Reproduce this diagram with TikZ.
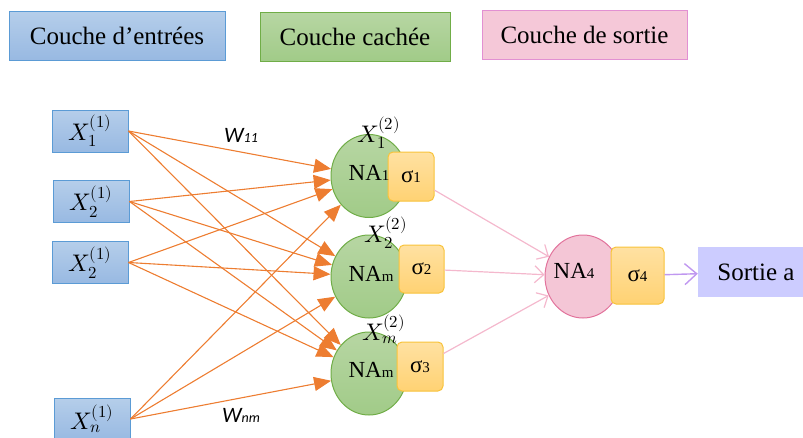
\documentclass[tikz,border=0pt]{standalone}
\usepackage{fontspec}
\usepackage{unicode-math}
\setmainfont{Liberation Serif}
\setmathfont{Latin Modern Math}
\newfontfamily\wfont{Carlito}
\usetikzlibrary{arrows.meta,shapes.geometric}

\definecolor{bluetop}{HTML}{B5CEEA}
\definecolor{bluebot}{HTML}{98B9E2}
\definecolor{blueline}{HTML}{5B9BD5}
\definecolor{greentop}{HTML}{B7D6A3}
\definecolor{greenbot}{HTML}{A1CB88}
\definecolor{greenline}{HTML}{70AD47}
\definecolor{pinkfill}{HTML}{F5C8D8}
\definecolor{pinkline}{HTML}{E290D2}
\definecolor{nafill}{HTML}{F4C6D6}
\definecolor{naline}{HTML}{E2739C}
\definecolor{sigtop}{HTML}{FFE1A2}
\definecolor{sigbot}{HTML}{FFD273}
\definecolor{sigline}{HTML}{F8C33A}
\definecolor{wire}{HTML}{ED7D31}
\definecolor{pinkwire}{HTML}{F4B8CD}
\definecolor{outwire}{HTML}{C098F0}
\definecolor{outfill}{HTML}{CCCCFF}

\newcommand{\bigtxt}[1]{{\fontsize{23}{26}\selectfont #1}}
\newcommand{\smltxt}[1]{{\fontsize{15}{16}\selectfont #1}}

\tikzset{
  legendbox/.style={draw, line width=1pt, minimum height=49pt, inner sep=0pt,
    font=\fontsize{25}{30}\selectfont},
  inbox/.style={draw=blueline, line width=1pt, top color=bluetop, bottom color=bluebot,
    minimum width=76pt, minimum height=42pt, inner sep=0pt,
    font=\fontsize{24}{28}\selectfont},
  neuron/.style={ellipse, draw=greenline, line width=1pt, top color=greentop,
    bottom color=greenbot, minimum width=76pt, minimum height=83pt, inner sep=0pt},
  sigbox/.style={draw=sigline, line width=1pt, rounded corners=5pt, top color=sigtop,
    bottom color=sigbot, minimum width=46pt, minimum height=49pt, inner sep=0pt},
  natext/.style={inner sep=0pt, anchor=base},
  xlab/.style={inner sep=0pt, anchor=base west, font=\fontsize{24}{28}\selectfont},
  wlab/.style={inner sep=0pt, anchor=base, font=\wfont\itshape\fontsize{22}{24}\selectfont},
  wlink/.style={draw=wire, line width=1.1pt, -{Triangle[length=17pt,width=14pt]}},
  plink/.style={draw=pinkwire, line width=1.2pt, -{Straight Barb[length=9pt,width=17pt]}},
  olink/.style={draw=outwire, line width=1.4pt, -{Straight Barb[length=12pt,width=21pt]}}
}

\begin{document}
\begin{tikzpicture}[x=1pt,y=-1pt]
\useasboundingbox (0,0) rectangle (803,437);

% legend
\node[legendbox, draw=blueline, top color=bluetop, bottom color=bluebot,
  minimum width=216pt] (leg1) at (117,35.5) {Couche d’entrées};
\node[legendbox, draw=greenline, top color=greentop, bottom color=greenbot,
  minimum width=190pt] (leg2) at (355,36.5) {Couche cachée};
\node[legendbox, draw=pinkline, fill=pinkfill,
  minimum width=205pt] (leg3) at (584.5,35) {Couche de sortie};

% input layer
\node[inbox] (x1) at (90,131) {$X_1^{(1)}$};
\node[inbox] (x2) at (91,201.5) {$X_2^{(1)}$};
\node[inbox] (x3) at (90,262.5) {$X_2^{(1)}$};
\node[inbox] (xn) at (92,419) {$X_n^{(1)}$};

% hidden layer
\node[neuron] (h1) at (369,176) {};
\node[neuron] (h2) at (369,276.5) {};
\node[neuron] (h3) at (369,373.5) {};

% output neuron
\node[ellipse, draw=naline, line width=1pt, fill=nafill, minimum width=76pt,
  minimum height=83pt, inner sep=0pt] (o) at (583,276.5) {};

% weighted connections
\foreach \i in {x1,x2,x3,xn}
  \foreach \j in {h1,h2,h3}
    \draw[wlink] (\i.east) -- (\j);

% activation boxes
\node[sigbox] (s1) at (411,176.5) {\bigtxt{σ}\smltxt{1}};
\node[sigbox, minimum width=45pt, minimum height=48pt] (s2) at (421.5,269) {\bigtxt{σ}\smltxt{2}};
\node[sigbox] (s3) at (420,366.5) {\bigtxt{σ}\smltxt{3}};
\node[sigbox, minimum width=53pt, minimum height=57pt] (s4) at (637.5,275.5) {\bigtxt{σ}\smltxt{4}};

% neuron names
\node[natext] (n1) at (369,180) {\bigtxt{NA}\smltxt{1}};
\node[natext] (n2) at (371,281) {\bigtxt{NA}\smltxt{m}};
\node[natext] (n3) at (371,377) {\bigtxt{NA}\smltxt{m}};
\node[natext] (n4) at (574,278) {\bigtxt{NA}\smltxt{4}};

% hidden outputs
\node[xlab] (l1) at (357,142) {$X_1^{(2)}$};
\node[xlab] (l2) at (364,242) {$X_2^{(2)}$};
\node[xlab] (l3) at (362,340) {$X_m^{(2)}$};

% weights
\node[wlab] (w11) at (241,142) {W\fontsize{14}{14}\selectfont 11};
\node[wlab] (wnm) at (241,422) {W\fontsize{14}{14}\selectfont nm};

% to output
\draw[plink] (s1) -- (o);
\draw[plink] (s2) -- (o);
\draw[plink] (s3) -- (o);

% result
\node[fill=outfill, minimum width=116pt, minimum height=50pt, inner sep=0pt,
  font=\fontsize{25}{30}\selectfont] (out) at (756,272) {Sortie a};
\draw[olink] (s4) -- (out);
\end{tikzpicture}
\end{document}
